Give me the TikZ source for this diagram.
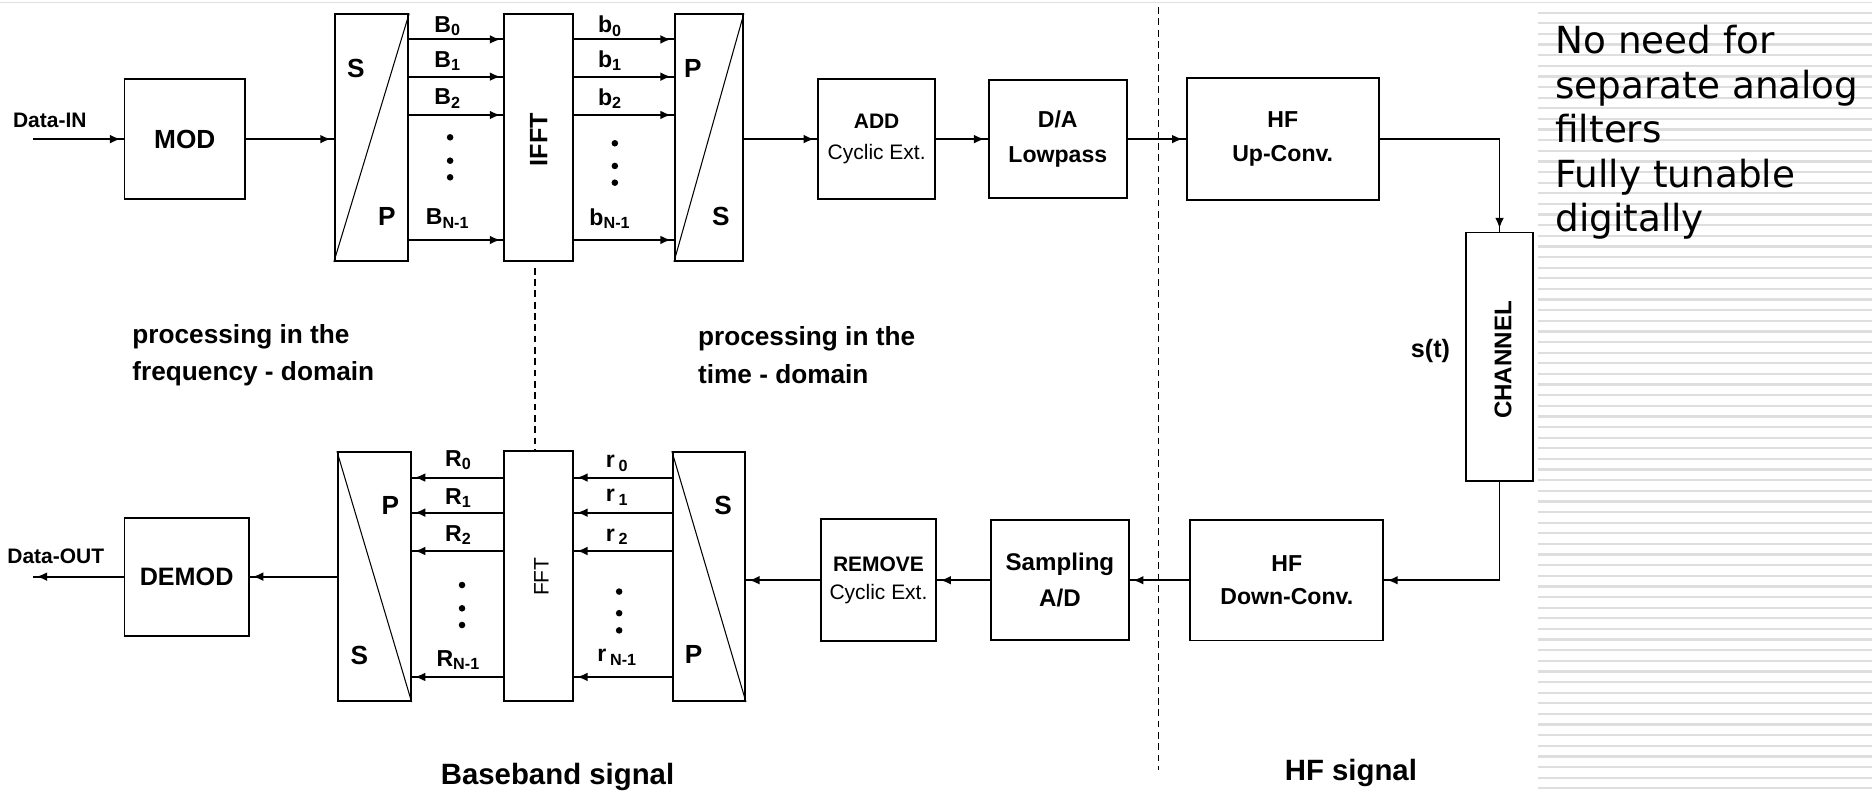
\documentclass[tikz,border=0pt]{standalone}
\usepackage{fontspec}
\setmainfont{Liberation Sans}
\newfontfamily\notefont{DejaVu Sans}
\usetikzlibrary{arrows.meta,decorations.markings}

\tikzset{
  blk/.style={draw,line width=0.9pt,inner sep=0pt,align=center},
  lbl/.style={inner sep=0pt,font=\fontsize{11}{13}\selectfont\bfseries},
  letter/.style={inner sep=0pt,font=\fontsize{12.5}{14}\selectfont\bfseries},
  flow/.style={line width=0.9pt,postaction={decorate},decoration={markings,
      mark=at position -1.5pt with {\arrow{Latex[length=5pt,width=4.2pt]}}}},
  cut/.style={line width=0.7pt,dash pattern=on 3.2pt off 2.2pt},
  diag/.style={line width=0.5pt},
}

\begin{document}
\begin{tikzpicture}[x=0.02cm,y=-0.02cm]
    \useasboundingbox (0,0) rectangle (1568,664);
    %% rule at the top and the lined margin
    \draw[black!12,line width=0.8pt] (0,2.2) -- (1568,2.2);
    \foreach \i in {0,...,73}
        \draw[black!13,line width=1.1pt] (1288,10.6+8.9*\i) -- (1568,10.6+8.9*\i);

    %% Transmitter
    \node[font=\fontsize{10}{12}\selectfont\bfseries] (din) at (41.7,101) {Data-IN};
    \coordinate (inp) at (28,116.5);
    \node[blk,minimum width=2.02cm,minimum height=2.01cm,font=\fontsize{12.5}{14}\selectfont\bfseries] (mod) at (154.8,116.5) {MOD};
    \node[blk,minimum width=1.23cm,minimum height=4.13cm] (sp1) at (311.2,115.3) {};
    \node[blk,minimum width=1.15cm,minimum height=4.13cm] (ifft) at (451.2,115.3) {};
    \node[rotate=90,font=\fontsize{12}{14}\selectfont\bfseries] (iffttxt) at (451.2,117) {IFFT};
    \node[blk,minimum width=1.14cm,minimum height=4.13cm] (ps1) at (593.8,115.3) {};
    \node[blk,minimum width=1.96cm,minimum height=2.01cm,font=\fontsize{10}{14.6}\selectfont] (add) at (734.3,116.5) {\bfseries ADD\\Cyclic Ext.};
    \node[blk,minimum width=2.32cm,minimum height=1.97cm,font=\fontsize{11}{17}\selectfont\bfseries] (da) at (886,116.5) {D/A\\Lowpass};
    \node[blk,minimum width=3.22cm,minimum height=2.05cm,font=\fontsize{11}{16}\selectfont\bfseries] (hfup) at (1074.4,116.5) {HF\\Up-Conv.};
    \node[blk,minimum width=1.12cm,minimum height=4.16cm] (chan) at (1256,298.7) {};
    \node[rotate=90,font=\fontsize{11.5}{14}\selectfont\bfseries] (chantxt) at (1259,301.5) {CHANNEL};
    \node[font=\fontsize{12}{14}\selectfont\bfseries] (st) at (1198.2,293.7) {s(t)};

    %% S/P and P/S letters and slashes
    \draw[diag] (sp1.south west) -- (sp1.north east);
    \node[letter] (sp1s) at (298,57) {S};
    \node[letter] (sp1p) at (324,181) {P};
    \draw[diag] (ps1.south west) -- (ps1.north east);
    \node[letter] (ps1p) at (580.3,57) {P};
    \node[letter] (ps1s) at (603.8,181.5) {S};

    %% Receiver
    \node[blk,minimum width=3.23cm,minimum height=2.02cm,font=\fontsize{11}{16}\selectfont\bfseries] (hfdown) at (1077.8,486) {HF\\Down-Conv.};
    \node[blk,minimum width=2.31cm,minimum height=2.01cm,font=\fontsize{11.5}{17}\selectfont\bfseries] (samp) at (887.8,486) {Sampling\\A/D};
    \node[blk,minimum width=1.94cm,minimum height=2.04cm,font=\fontsize{10}{13.5}\selectfont] (rem) at (735.8,486) {\bfseries REMOVE\\Cyclic Ext.};
    \node[blk,minimum width=1.21cm,minimum height=4.17cm] (sp2) at (593.8,483) {};
    \node[blk,minimum width=1.15cm,minimum height=4.19cm] (fft) at (451.2,482.3) {};
    \node[rotate=90,font=\fontsize{10}{12}\selectfont] (ffttxt) at (453.5,483) {FFT};
    \node[blk,minimum width=1.22cm,minimum height=4.17cm] (ps2) at (313.5,483) {};
    \node[blk,minimum width=2.08cm,minimum height=1.98cm,font=\fontsize{12}{14}\selectfont\bfseries] (demod) at (156.3,483) {DEMOD};
    \node[font=\fontsize{10}{12}\selectfont\bfseries] (dout) at (46.7,466.2) {Data-OUT};
    \coordinate (outp) at (28,483);

    \draw[diag] (sp2.north west) -- (sp2.south east);
    \node[letter] (sp2s) at (605.7,423) {S};
    \node[letter] (sp2p) at (581,548.6) {P};
    \draw[diag] (ps2.north west) -- (ps2.south east);
    \node[letter] (ps2p) at (327,423) {P};
    \node[letter] (ps2s) at (301,548.6) {S};

    %% parallel branches
    \foreach \yy/\s [count=\k] in {21.8/0,51/1,82.7/2,183/N-1} {
        \node[lbl] (Bf\k) at (375,\yy) {B\textsubscript{\s}};
        \node[lbl] (bt\k) at (511,\yy) {b\textsubscript{\s}};
    }
    \foreach \yy/\s [count=\k] in {385.3/0,417.4/1,448/2,553/N-1}
        \node[lbl] (Rf\k) at (384,\yy) {R\textsubscript{\s}};
    \foreach \yy/\s [count=\k] in {388/0,416.5/1,449.5/2,550.5/N-1}
        \node[lbl] (rt\k) at (517,\yy) {r\,\textsubscript{\s}};
    \foreach \yy in {33,64.2,96.3,201} {
        \draw[flow] (sp1.east |- 0,\yy) -- (ifft.west |- 0,\yy);
        \draw[flow] (ifft.east |- 0,\yy) -- (ps1.west |- 0,\yy);
    }
    \foreach \yy in {400,429.4,461.5,567} {
        \draw[flow] (sp2.west |- 0,\yy) -- (fft.east |- 0,\yy);
        \draw[flow] (fft.west |- 0,\yy) -- (ps2.east |- 0,\yy);
    }
    \foreach \xx/\yy in {377/115,377/134.6,377/148.5,515/120,515/139,515/153,
                         387/490,387/509.5,387/523.5,518.6/495.5,518.6/513.6,518.6/528}
        \fill (\xx,\yy) circle[radius=0.055cm];

    %% signal path
    \draw[flow] (inp) -- (mod.west);
    \draw[flow] (mod.east) -- (mod.east -| sp1.west);
    \draw[flow] (ps1.east |- add.west) -- (add.west);
    \draw[flow] (add.east) -- (da.west);
    \draw[flow] (da.east) -- (hfup.west);
    \draw[flow] (hfup.east) -| (chan.north);
    \draw[flow] (chan.south) |- (hfdown.east);
    \draw[flow] (hfdown.west) -- (samp.east);
    \draw[flow] (samp.west) -- (rem.east);
    \draw[flow] (rem.west) -- (rem.west -| sp2.east);
    \draw[flow] (ps2.west |- demod.east) -- (demod.east);
    \draw[flow] (demod.west) -- (outp);

    %% domain borders
    \draw[cut] ([xshift=-0.06cm,yshift=-0.1cm]ifft.south) -- ([xshift=-0.06cm]fft.north);
    \draw[cut] (970.3,6) -- (970.3,645);

    %% captions
    \node[anchor=west,align=left,font=\fontsize{12.5}{17.8}\selectfont\bfseries] (freqd) at (104.7,297.5) {processing in the\\frequency - domain};
    \node[anchor=west,align=left,font=\fontsize{12.5}{17.8}\selectfont\bfseries] (timed) at (578.5,297.5) {processing in the\\time - domain};
    \node[font=\fontsize{14}{16}\selectfont\bfseries] (bband) at (467,650.5) {Baseband signal};
    \node[font=\fontsize{14}{16}\selectfont\bfseries] (hfsig) at (1131.5,647.7) {HF signal};
    \node[anchor=north west,align=left,inner sep=0pt,font=\notefont\fontsize{17.8}{21.2}\selectfont] (note) at (1302.5,21) {No need for\\separate analog\\filters\\Fully tunable\\digitally};
\end{tikzpicture}
\end{document}
